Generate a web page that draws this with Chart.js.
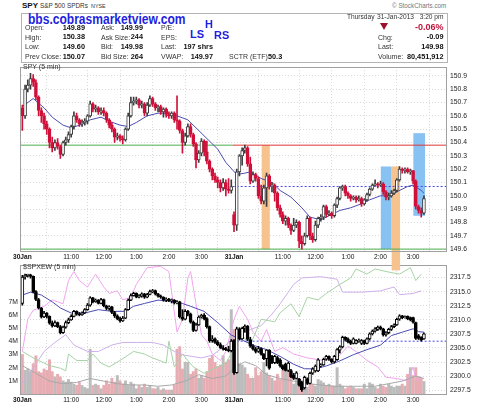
<!DOCTYPE html>
<html>
<head>
<meta charset="utf-8">
<script src="https://cdn.jsdelivr.net/npm/chart.js@4.4.0/dist/chart.umd.min.js"></script>
<style>
html, body { margin: 0; padding: 0; background: #fff; }
body { width: 480px; height: 406px; position: relative; overflow: hidden; font-family: "Liberation Sans", Arial, sans-serif; color: #333; }
.t { position: absolute; white-space: nowrap; font-size: 7px; line-height: 1; z-index: 5; }
.v { position: absolute; white-space: nowrap; font-size: 7.3px; line-height: 1; font-weight: bold; color: #111; z-index: 5; }
.blue { color: #1f1fe0; font-weight: bold; }
#box { position: absolute; left: 21px; top: 13px; width: 427px; height: 50px; box-sizing: border-box; border: 1px solid #b4b4b4; }
canvas { position: absolute; left: 0; }
#topChart { top: 60px; z-index: 2; }
#botChart { top: 258px; z-index: 1; }
</style>
</head>
<body>
<div class="t" style="left:22px;top:2px;font-size:8px;font-weight:bold;color:#111">SPY</div>
<div class="t" style="left:40px;top:3px;font-size:6.4px">S&amp;P 500 SPDRs</div>
<div class="t" style="left:91px;top:3.6px;font-size:5.4px">NYSE</div>
<div class="t" style="left:392px;top:3px;font-size:6.3px;color:#777">&copy; StockCharts.com</div>
<div id="box"></div>
<div class="t blue" style="left:28px;top:11.5px;font-size:14px;transform:scaleX(0.86);transform-origin:left top">bbs.cobrasmarketview.com</div>
<div class="t blue" style="left:190px;top:28.5px;font-size:11px">LS</div>
<div class="t blue" style="left:205px;top:18.5px;font-size:11px">H</div>
<div class="t blue" style="left:214px;top:30px;font-size:11px">RS</div>

<div class="t" style="left:25px;top:24.3px">Open:</div>
<div class="v" style="right:395px;top:24px">149.89</div>
<div class="t" style="left:25px;top:33.6px">High:</div>
<div class="v" style="right:395px;top:33.3px">150.38</div>
<div class="t" style="left:25px;top:42.9px">Low:</div>
<div class="v" style="right:395px;top:42.6px">149.60</div>
<div class="t" style="left:25px;top:53.3px">Prev Close:</div>
<div class="v" style="right:395px;top:53px">150.07</div>

<div class="t" style="left:101px;top:24.3px">Ask:</div>
<div class="v" style="right:337px;top:24px">149.99</div>
<div class="t" style="left:101px;top:33.6px">Ask Size:</div>
<div class="v" style="right:337px;top:33.3px">244</div>
<div class="t" style="left:101px;top:42.9px">Bid:</div>
<div class="v" style="right:337px;top:42.6px">149.98</div>
<div class="t" style="left:101px;top:53.3px">Bid Size:</div>
<div class="v" style="right:337px;top:53px">264</div>

<div class="t" style="left:161px;top:24.3px">P/E:</div>
<div class="t" style="left:161px;top:33.6px">EPS:</div>
<div class="t" style="left:161px;top:42.9px">Last:</div>
<div class="v" style="right:267px;top:42.6px">197 shrs</div>
<div class="t" style="left:161px;top:53.3px">VWAP:</div>
<div class="v" style="right:267px;top:53px">149.97</div>
<div class="t" style="left:229px;top:53.3px">SCTR (ETF):</div>
<div class="v" style="left:268px;top:53px">50.3</div>

<div class="t" style="left:347px;top:13.8px;font-size:6.6px">Thursday</div>
<div class="t" style="left:377px;top:13.8px;font-size:6.6px">31-Jan-2013</div>
<div class="t" style="right:36.5px;top:13.8px;font-size:6.6px">3:20 pm</div>
<div style="position:absolute;left:380px;top:23px;width:0;height:0;border-left:4px solid transparent;border-right:4px solid transparent;border-top:7px solid #9e0f2c;z-index:5"></div>
<div class="v" style="right:36.5px;top:22.6px;font-size:9px;color:#c0143c">-0.06%</div>
<div class="t" style="left:378px;top:33.6px">Chg:</div>
<div class="v" style="right:36.5px;top:33.3px">-0.09</div>
<div class="t" style="left:378px;top:42.9px">Last:</div>
<div class="v" style="right:36.5px;top:42.6px">149.98</div>
<div class="t" style="left:378px;top:53.3px">Volume:</div>
<div class="v" style="right:36.5px;top:53px">80,451,912</div>

<div class="t" style="left:23px;top:62.5px;color:#333">SPY (5 min)</div>
<div class="t" style="left:23px;top:262.5px;color:#333">$SPXEW (5 min)</div>

<canvas id="topChart" width="480" height="215"></canvas>
<canvas id="botChart" width="480" height="148"></canvas>

<script>
// ---- time axis (5 minute bars, 30-Jan 9:30 -> 31-Jan 3:20) ----
const tickBars = [0, 18, 30, 42, 54, 66, 78, 96, 108, 120, 132, 144];
const tickLabels = ['30Jan', '11:00', '12:00', '1:00', '2:00', '3:00', '31Jan', '11:00', '12:00', '1:00', '2:00', '3:00'];
const dayBreak = 77.5;

// ---- SPY 5 min candles ----
const spyOpen = [
  150.66,150.60,150.80,150.83,150.88,150.85,150.74,150.64,150.60,150.54,
  150.50,150.40,150.36,150.40,150.37,150.31,150.40,150.42,150.46,150.52,
  150.60,150.57,150.54,150.55,150.56,150.60,150.69,150.65,150.66,150.63,
  150.64,150.62,150.57,150.53,150.50,150.44,150.45,150.43,150.42,150.50,
  150.60,150.70,150.71,150.72,150.68,150.69,150.62,150.68,150.73,150.69,
  150.66,150.67,150.63,150.65,150.61,150.60,150.62,150.57,150.56,150.49,
  150.40,150.45,150.52,150.46,150.39,150.27,150.32,150.41,150.33,150.26,
  150.20,150.15,150.12,150.10,150.06,150.10,150.05,150.04,
  149.86,149.78,150.18,150.30,150.34,150.36,150.24,150.11,150.16,150.13,
  150.00,149.96,150.06,150.15,150.07,150.08,150.02,149.91,149.86,149.81,
  149.83,149.78,149.74,149.78,149.80,149.66,149.64,149.70,149.83,149.70,
  149.67,149.78,149.83,149.84,149.92,149.86,149.87,149.85,149.93,149.98,
  150.06,150.07,150.02,150.00,149.98,149.99,149.97,149.98,149.94,149.97,
  150.01,150.05,150.08,150.09,150.08,150.09,150.03,149.99,150.00,150.02,
  150.04,150.12,150.20,150.19,150.20,150.18,150.19,150.11,149.92,149.89,
  149.87
];
const spyHigh = [
  150.68,150.83,150.87,150.92,150.91,150.87,150.75,150.66,150.62,150.56,
  150.51,150.44,150.42,150.43,150.38,150.41,150.44,150.48,150.53,150.63,
  150.62,150.58,150.57,150.58,150.61,150.71,150.70,150.68,150.67,150.66,
  150.66,150.63,150.58,150.55,150.51,150.47,150.46,150.45,150.51,150.62,
  150.74,150.74,150.74,150.73,150.71,150.70,150.70,150.75,150.74,150.70,
  150.68,150.68,150.66,150.66,150.63,150.63,150.63,150.75,150.57,150.50,
  150.47,150.54,150.54,150.47,150.40,150.34,150.43,150.42,150.41,150.27,
  150.21,150.17,150.14,150.12,150.13,150.12,150.13,150.12,
  149.88,150.20,150.31,150.36,150.38,150.37,150.29,150.18,150.17,150.14,
  150.08,150.08,150.17,150.16,150.10,150.09,150.03,149.93,149.88,149.85,
  149.84,149.79,149.83,149.82,149.81,149.70,149.72,149.85,149.84,149.72,
  149.81,149.84,149.86,149.93,149.93,149.89,149.88,149.94,149.99,150.07,
  150.08,150.08,150.03,150.01,150.00,150.00,150.00,149.99,149.98,150.02,
  150.06,150.09,150.12,150.10,150.11,150.10,150.04,150.02,150.04,150.05,
  150.13,150.22,150.21,150.21,150.21,150.20,150.19,150.12,149.93,149.91,
  150.00
];
const spyLow = [
  150.49,150.58,150.78,150.80,150.82,150.72,150.60,150.55,150.50,150.46,
  150.36,150.33,150.34,150.35,150.28,150.30,150.38,150.40,150.44,150.50,
  150.55,150.52,150.52,150.53,150.54,150.59,150.63,150.63,150.61,150.61,
  150.60,150.55,150.51,150.48,150.40,150.42,150.41,150.39,150.41,150.49,
  150.59,150.68,150.69,150.66,150.66,150.60,150.60,150.67,150.67,150.64,
  150.63,150.61,150.59,150.59,150.58,150.58,150.55,150.50,150.47,150.32,
  150.38,150.44,150.44,150.37,150.21,150.25,150.30,150.30,150.24,150.18,
  150.12,150.10,150.06,150.03,150.04,150.00,150.02,150.02,
  149.73,149.74,150.15,150.23,150.32,150.22,150.09,150.10,150.11,149.98,
  149.94,149.94,149.92,150.05,150.03,149.96,149.89,149.84,149.79,149.78,
  149.76,149.71,149.73,149.76,149.61,149.60,149.63,149.69,149.67,149.65,
  149.66,149.76,149.81,149.82,149.84,149.85,149.83,149.84,149.91,149.97,
  150.04,150.00,149.98,149.96,149.97,149.95,149.96,149.92,149.93,149.96,
  150.00,150.04,150.07,150.06,150.07,150.01,149.97,149.97,149.99,150.01,
  150.03,150.11,150.17,150.17,150.17,150.16,150.09,149.90,149.87,149.84,
  149.86
];
const spyClose = [
  150.60,150.80,150.83,150.88,150.85,150.74,150.64,150.60,150.54,150.50,
  150.40,150.36,150.40,150.37,150.31,150.40,150.42,150.46,150.52,150.60,
  150.57,150.54,150.55,150.56,150.60,150.69,150.65,150.66,150.63,150.64,
  150.62,150.57,150.53,150.50,150.44,150.45,150.43,150.42,150.50,150.60,
  150.70,150.71,150.72,150.68,150.69,150.62,150.68,150.73,150.69,150.66,
  150.67,150.63,150.65,150.61,150.60,150.62,150.57,150.56,150.49,150.40,
  150.45,150.52,150.46,150.39,150.27,150.32,150.41,150.33,150.26,150.20,
  150.15,150.12,150.10,150.06,150.10,150.05,150.04,150.07,
  149.78,150.18,150.30,150.34,150.36,150.24,150.11,150.16,150.13,150.00,
  149.96,150.06,150.15,150.07,150.08,150.02,149.91,149.86,149.81,149.83,
  149.78,149.74,149.78,149.80,149.66,149.64,149.70,149.83,149.70,149.67,
  149.78,149.83,149.84,149.92,149.86,149.87,149.85,149.93,149.98,150.06,
  150.07,150.02,150.00,149.98,149.99,149.97,149.98,149.94,149.97,150.01,
  150.05,150.08,150.09,150.08,150.09,150.03,149.99,150.00,150.02,150.04,
  150.12,150.20,150.19,150.20,150.18,150.19,150.11,149.92,149.89,149.87,
  149.98
];
// SPY moving average (read at selected bars)
const spyMaBars = [0,4,8,11,15,18,21,25,29,32,36,39,42,46,50,53,57,61,64,68,72,75,79,82,84,88,92,95,99,103,106,110,114,117,121,125,128,132,136,138,142,144,147,148];
const spyMaVals = [150.67,150.73,150.66,150.59,150.53,150.51,150.53,150.57,150.59,150.56,150.53,150.52,150.55,150.60,150.62,150.62,150.60,150.57,150.51,150.43,150.35,150.25,150.16,150.17,150.18,150.13,150.10,150.04,149.99,149.91,149.84,149.82,149.86,149.89,149.91,149.94,149.97,150.00,150.00,150.03,150.07,150.08,150.04,150.02];
const spyTicks = [149.6,149.7,149.8,149.9,150.0,150.1,150.2,150.3,150.4,150.5,150.6,150.7,150.8,150.9];
const spyPrevClose = 150.07;
const spyDayHigh = 150.38;
const spyDayLow = 149.60;
// highlighted zones drawn on the SPY panel
const bandStart = [88.2, 132.1, 136.1, 144.1];
const bandEnd   = [91.2, 136.1, 139.2, 148.4];
const bandLow   = [149.60, 149.60, 149.44, 149.85];
const bandHigh  = [150.38, 150.22, 150.22, 150.47];
const bandKind  = ['orange', 'blue', 'orange', 'blue'];

// ---- $SPXEW 5 min candles ----
const ewOpen = [
  2312.9,2317.6,2317.9,2318.0,2317.7,2315.0,2313.6,2312.1,2310.5,2311.2,
  2310.6,2309.4,2308.9,2309.5,2308.8,2307.7,2308.7,2309.5,2310.0,2310.6,
  2311.5,2311.0,2310.9,2311.2,2311.8,2312.6,2313.9,2313.2,2313.5,2312.9,
  2313.6,2312.5,2312.0,2312.3,2311.3,2310.7,2310.2,2309.8,2310.3,2311.8,
  2313.5,2314.3,2314.7,2314.0,2314.2,2314.6,2314.0,2314.5,2315.0,2315.2,
  2314.6,2314.2,2314.0,2313.5,2313.7,2313.4,2313.5,2313.0,2313.2,2310.5,
  2310.1,2311.5,2311.0,2309.6,2308.1,2309.1,2310.5,2310.8,2310.2,2308.8,
  2306.3,2306.6,2306.0,2305.6,2305.0,2304.8,2304.7,2304.5,
  2306.4,2300.6,2308.4,2306.6,2308.5,2308.9,2306.5,2305.3,2304.8,2304.4,
  2304.9,2303.9,2303.1,2304.6,2303.5,2302.4,2303.3,2302.9,2301.8,2302.1,
  2301.0,2301.0,2300.2,2299.6,2299.5,2298.9,2297.9,2299.5,2298.7,2300.5,
  2300.9,2300.9,2301.8,2302.0,2303.0,2303.5,2303.0,2302.5,2302.9,2304.6,
  2305.2,2306.9,2306.6,2306.2,2305.8,2305.8,2306.1,2305.8,2306.3,2305.8,
  2306.6,2307.5,2308.0,2308.3,2308.7,2308.4,2307.3,2307.7,2308.3,2308.8,
  2309.1,2310.1,2310.7,2310.4,2310.6,2310.4,2310.4,2309.5,2307.2,2306.9,
  2306.6
];
const ewHigh = [
  2317.9,2318.1,2318.1,2318.1,2317.8,2315.2,2313.8,2312.2,2311.5,2311.3,
  2310.7,2309.8,2309.8,2309.6,2309.0,2308.9,2309.8,2310.3,2310.9,2311.7,
  2311.6,2311.3,2311.4,2312.0,2312.9,2314.1,2314.0,2313.7,2313.6,2313.8,
  2313.7,2312.6,2312.5,2312.4,2311.5,2310.9,2310.5,2310.6,2312.0,2313.7,
  2314.6,2314.9,2314.8,2314.5,2314.8,2314.7,2314.7,2315.3,2315.4,2315.3,
  2314.7,2314.4,2314.1,2313.9,2313.8,2313.7,2313.6,2313.4,2313.3,2311.8,
  2311.8,2311.7,2311.2,2309.8,2309.4,2310.7,2311.0,2311.1,2310.4,2308.9,
  2307.2,2306.8,2306.3,2305.9,2305.4,2305.1,2305.3,2306.5,
  2306.5,2308.7,2308.6,2308.7,2309.1,2309.0,2306.9,2305.6,2305.1,2305.3,
  2305.0,2304.0,2304.7,2304.7,2303.7,2303.7,2303.5,2303.1,2302.0,2302.3,
  2302.5,2301.2,2300.5,2300.8,2299.6,2299.1,2300.0,2299.7,2300.7,2301.5,
  2302.0,2303.1,2302.2,2303.2,2303.7,2303.6,2303.1,2303.7,2304.9,2305.4,
  2307.1,2307.0,2306.8,2306.4,2306.8,2306.5,2306.6,2306.5,2306.4,2306.8,
  2307.7,2308.2,2308.6,2308.9,2308.9,2308.5,2307.9,2308.5,2309.0,2309.3,
  2310.3,2310.9,2310.8,2310.7,2310.7,2310.5,2310.5,2309.6,2307.4,2307.0,
  2307.7
];
const ewLow = [
  2312.6,2317.2,2317.6,2317.4,2314.8,2313.4,2311.9,2310.3,2310.4,2310.3,
  2309.2,2308.7,2308.8,2308.6,2307.5,2307.6,2308.5,2309.3,2309.9,2310.5,
  2310.8,2310.7,2310.8,2311.1,2311.7,2312.4,2313.0,2313.1,2312.8,2312.8,
  2312.3,2311.8,2311.7,2311.1,2310.4,2310.0,2309.6,2309.7,2310.2,2311.7,
  2313.4,2314.2,2313.9,2313.9,2314.0,2313.8,2313.9,2314.4,2314.8,2314.4,
  2314.0,2313.8,2313.3,2313.2,2313.2,2313.0,2312.8,2312.8,2310.3,2309.9,
  2310.0,2310.7,2309.4,2307.9,2308.0,2309.0,2310.3,2310.0,2308.5,2306.0,
  2306.0,2305.8,2305.4,2304.9,2304.6,2304.5,2304.3,2304.3,
  2300.3,2300.5,2306.4,2306.5,2307.8,2306.3,2305.1,2304.6,2304.1,2304.2,
  2303.7,2302.9,2301.8,2301.2,2302.2,2302.2,2302.2,2301.6,2301.1,2300.9,
  2300.8,2299.7,2299.4,2299.5,2298.2,2297.3,2297.7,2298.5,2298.6,2300.3,
  2300.7,2300.8,2301.6,2301.9,2302.8,2302.8,2302.3,2302.3,2302.8,2304.1,
  2305.0,2306.3,2305.9,2305.6,2305.7,2305.7,2306.0,2305.6,2305.6,2305.7,
  2306.4,2307.3,2307.8,2308.1,2308.2,2307.1,2307.1,2307.5,2308.1,2308.6,
  2309.0,2309.9,2310.2,2310.3,2310.0,2309.8,2309.4,2306.5,2306.5,2306.2,
  2306.5
];
const ewClose = [
  2317.6,2317.9,2318.0,2317.7,2315.0,2313.6,2312.1,2310.5,2311.2,2310.6,
  2309.4,2308.9,2309.5,2308.8,2307.7,2308.7,2309.5,2310.0,2310.6,2311.5,
  2311.0,2310.9,2311.2,2311.8,2312.6,2313.9,2313.2,2313.5,2312.9,2313.6,
  2312.5,2312.0,2312.3,2311.3,2310.7,2310.2,2309.8,2310.3,2311.8,2313.5,
  2314.3,2314.7,2314.0,2314.2,2314.6,2314.0,2314.5,2315.0,2315.2,2314.6,
  2314.2,2314.0,2313.5,2313.7,2313.4,2313.5,2313.0,2313.2,2310.5,2310.1,
  2311.5,2311.0,2309.6,2308.1,2309.1,2310.5,2310.8,2310.2,2308.8,2306.3,
  2306.6,2306.0,2305.6,2305.0,2304.8,2304.7,2304.5,2306.2,
  2300.6,2308.4,2306.6,2308.5,2308.9,2306.5,2305.3,2304.8,2304.4,2304.9,
  2303.9,2303.1,2304.6,2301.4,2302.4,2303.5,2302.4,2301.8,2301.3,2301.0,
  2302.3,2299.9,2299.6,2300.6,2298.4,2297.6,2299.8,2298.7,2300.5,2301.3,
  2301.8,2302.9,2302.0,2303.0,2303.5,2303.0,2302.5,2303.5,2304.7,2305.2,
  2306.9,2306.5,2306.1,2305.8,2306.6,2306.3,2306.4,2306.3,2305.8,2306.6,
  2307.5,2308.0,2308.4,2308.7,2308.4,2307.3,2307.7,2308.3,2308.8,2309.1,
  2310.1,2310.7,2310.4,2310.5,2310.2,2310.0,2309.6,2306.7,2306.7,2306.4,
  2307.5
];
const ewMaBars = [0,3,7,11,14,18,23,28,33,38,41,45,50,55,59,62,67,72,77,81,85,90,95,100,104,108,112,117,122,127,132,136,140,144,146,148];
const ewMaVals = [2314.4,2314.9,2314.4,2313.2,2312.1,2311.2,2311.2,2311.8,2311.5,2311.5,2312.4,2312.9,2313.5,2313.3,2312.9,2312.4,2311.5,2309.5,2307.3,2306.4,2305.5,2304.7,2303.5,2302.1,2301.3,2301.3,2301.8,2302.7,2303.8,2304.7,2305.5,2307.2,2307.8,2308.4,2307.9,2307.8];
const ewTicks = [2297.5,2300.0,2302.5,2305.0,2307.5,2310.0,2312.5,2315.0,2317.5];
const ewPrevClose = 2306.2;

// ---- SPY volume (millions) ----
const volume = [
  3.0,1.8,1.9,1.7,2.3,2.9,1.7,1.6,1.9,1.8,
  2.6,1.7,1.3,1.5,1.3,1.0,0.9,1.1,0.9,0.75,
  0.65,0.9,0.65,0.5,0.4,3.4,0.65,0.75,0.65,0.4,
  0.65,1.0,0.75,1.2,0.9,1.4,1.0,0.75,1.0,0.65,
  0.9,0.75,0.4,0.65,0.5,0.75,0.5,0.65,0.4,0.4,
  0.5,0.3,0.4,0.3,0.3,0.3,0.7,3.4,3.6,1.9,
  2.4,2.4,1.5,1.7,1.9,1.2,1.4,1.2,1.7,2.7,
  2.9,2.4,2.1,2.2,2.9,2.4,2.6,6.4,
  4.9,3.4,2.3,2.2,2.0,1.5,1.2,1.2,2.0,1.4,
  1.7,2.4,1.6,1.4,1.2,1.0,1.5,1.1,2.2,1.9,
  1.7,1.5,0.75,1.5,0.95,0.75,0.85,0.5,0.75,0.75,
  0.6,1.1,1.0,0.85,0.6,0.75,0.6,0.6,2.0,0.75,
  0.6,0.4,0.5,0.6,0.5,0.4,0.4,0.4,0.75,0.4,
  0.85,0.75,0.5,0.4,0.75,0.6,0.5,0.75,0.6,0.5,
  0.6,0.6,0.75,0.6,1.5,2.0,1.4,2.0,1.3,1.2,
  0.95
];
const volTicks = [1, 2, 3, 4, 5, 6, 7];

// ---- indicator overlays in the lower panel (0..100 of panel height) ----
const pinkBars = [0,2,4,8,11,15,17,19,21,24,27,30,32,35,37,40,42,46,51,54,57,59,61,62,64,66,68,70,73,75,78,80,83,85,88,90,93,96,100,105,111,116,120,123,127,131,134,138,142,144,145,147];
const pinkVals = [33,58,65,68,73,70,88,95,88,83,93,83,78,80,73,75,85,98,99,95,48,58,90,95,70,46,41,31,26,33,58,68,58,48,41,50,33,36,31,28,26,28,37,33,26,21,13,12,10,21,11,13];
const lavBars = [0,4,8,12,16,19,24,28,33,37,42,48,52,56,60,66,70,75,78,80,84,88,92,95,100,103,110,116,118,125,132,137,139,144,147];
const lavVals = [8,20,33,40,46,38,33,33,38,40,40,40,38,33,30,28,30,38,44,46,50,53,62,70,85,90,91,89,79,79,80,83,77,78,80];
const greenBars = [0,4,6,10,14,16,17,20,24,26,29,32,36,41,45,48,53,54,56,59,63,67,70,75,78,80,84,88,93,95,99,102,105,109,112,117,121,123,127,130,134,139,143,145,147];
const greenVals = [33,28,26,22,20,18,31,26,26,31,24,21,26,33,31,28,24,41,21,31,21,16,19,24,35,48,38,58,56,63,70,60,75,73,78,85,90,97,93,97,95,93,98,88,93];
const grayBars = [0,5,10,15,20,25,30,35,40,45,50,55,60,65,70,75,78,82,86,90,95,100,105,110,115,120,125,130,135,140,145,148];
const grayVals = [22,16,10,8,9,12,10,8,7,7,6,7,10,15,12,14,20,25,22,15,12,10,8,7,6,6,6,6,8,10,14,12];

// ============================================
Chart.defaults.font.family = '"Liberation Sans", Arial, sans-serif';
Chart.defaults.animation = false;

const RED = '#d0103a';
const DARK = '#3c3c3c';
const X_MIN = -0.5, X_MAX = 156.5;
const idx = spyClose.map((_, i) => i);
const pts = (xs, ys) => xs.map((x, i) => ({ x: x, y: ys[i] }));

function candleSets(o, h, l, c, lineCol, yAxis) {
    const fills = idx.map(i => c[i] < o[i] ? lineCol[i] : '#ffffff');
    return [
        {
            type: 'bar', yAxisID: yAxis, order: 3, grouped: false,
            data: idx.map(i => ({ x: i, y: [l[i], h[i]] })),
            backgroundColor: lineCol, barThickness: 1
        },
        {
            type: 'bar', yAxisID: yAxis, order: 2, grouped: false,
            data: idx.map(i => ({ x: i, y: [o[i], c[i]] })),
            backgroundColor: fills, borderColor: lineCol, borderWidth: 1,
            borderSkipped: false, barThickness: 3, minBarLength: 1
        }
    ];
}

function lineSet(data, color, yAxis, order, dash) {
    return {
        type: 'line', yAxisID: yAxis, order: order, data: data,
        borderColor: color, borderWidth: 1, borderDash: dash || [],
        pointRadius: 0, tension: 0, fill: false
    };
}

const xScale = (axisHeight) => ({
    type: 'linear', min: X_MIN, max: X_MAX, offset: false,
    afterBuildTicks: (axis) => { axis.ticks = tickBars.map(v => ({ value: v })); },
    afterFit: (axis) => { axis.height = axisHeight; },
    ticks: {
        autoSkip: false, maxRotation: 0, padding: 2, color: '#111',
        callback: (v, i) => tickLabels[i],
        font: (ctx) => ({ size: 6.6, weight: tickLabels[ctx.index] && tickLabels[ctx.index].indexOf('Jan') > 0 ? 'bold' : 'normal' })
    },
    grid: { color: '#d9d9d9', drawTicks: false },
    border: { display: false, dash: [1, 2] }
});

const framePlugin = {
    id: 'frame',
    afterDatasetsDraw(chart) {
        const a = chart.chartArea, ctx = chart.ctx;
        ctx.save();
        ctx.strokeStyle = '#a0a0a0';
        ctx.lineWidth = 1;
        ctx.strokeRect(Math.round(a.left) - 0.5, Math.round(a.top) + 0.5, Math.round(a.right - a.left), Math.round(a.bottom - a.top));
        ctx.restore();
    }
};

const bandPlugin = {
    id: 'bands',
    beforeDatasetsDraw(chart) {
        const xs = chart.scales.x, ys = chart.scales.y, ctx = chart.ctx;
        ctx.save();
        bandStart.forEach((s, i) => {
            const x0 = xs.getPixelForValue(s), x1 = xs.getPixelForValue(bandEnd[i]);
            const y0 = ys.getPixelForValue(bandHigh[i]), y1 = ys.getPixelForValue(bandLow[i]);
            ctx.fillStyle = bandKind[i] === 'blue' ? '#88c2f2' : '#f6c28e';
            ctx.fillRect(x0, y0, x1 - x0, y1 - y0);
        });
        ctx.restore();
    }
};

// ---- top panel: SPY ----
const spyCol = idx.map(i => spyClose[i] < (i ? spyClose[i - 1] : spyOpen[i]) ? RED : DARK);

new Chart(document.getElementById('topChart'), {
    type: 'bar',
    data: {
        datasets: [
            lineSet([{ x: X_MIN, y: spyDayHigh }, { x: dayBreak, y: spyDayHigh }], '#4caf50', 'y', 6),
            lineSet([{ x: dayBreak, y: spyDayHigh }, { x: X_MAX, y: spyDayHigh }], '#e03838', 'y', 6),
            lineSet([{ x: X_MIN, y: spyDayLow }, { x: X_MAX, y: spyDayLow }], '#4caf50', 'y', 6),
            lineSet([{ x: dayBreak, y: spyPrevClose }, { x: X_MAX, y: spyPrevClose }], '#4848ee', 'y', 6, [2, 2]),
            lineSet(pts(spyMaBars, spyMaVals), '#4c4cb4', 'y', 5),
            ...candleSets(spyOpen, spyHigh, spyLow, spyClose, spyCol, 'y')
        ]
    },
    options: {
        responsive: false,
        layout: { padding: { left: 21, top: 2, right: 0, bottom: 13.5 } },
        plugins: { legend: { display: false }, tooltip: { enabled: false } },
        scales: {
            x: xScale(10),
            y: {
                position: 'right', min: 149.582, max: 150.966,
                afterBuildTicks: (axis) => { axis.ticks = spyTicks.map(v => ({ value: v })); },
                afterFit: (axis) => { axis.width = 33; },
                ticks: { padding: 3, color: '#222', font: { size: 6.8 }, callback: (v) => v.toFixed(1) },
                grid: { color: '#d9d9d9', drawTicks: false },
                border: { display: false, dash: [1, 2] }
            }
        }
    },
    plugins: [bandPlugin, framePlugin]
});

// ---- bottom panel: $SPXEW with SPY volume ----
const ewCol = idx.map(() => '#000');
const volCol = idx.map(i => spyCol[i] === RED ? '#e7adb3' : '#bcbcbc');

new Chart(document.getElementById('botChart'), {
    type: 'bar',
    data: {
        datasets: [
            {
                type: 'bar', yAxisID: 'yv', order: 20, grouped: false,
                data: idx.map(i => ({ x: i, y: volume[i] })),
                backgroundColor: volCol, barThickness: 2.3
            },
            lineSet(pts(grayBars, grayVals), '#a8a8a8', 'yo', 15),
            lineSet(pts(greenBars, greenVals), '#a6d3a6', 'yo', 15),
            lineSet(pts(lavBars, lavVals), '#cdb0ea', 'yo', 15),
            lineSet(pts(pinkBars, pinkVals), '#f2a4f0', 'yo', 15),
            lineSet([{ x: dayBreak, y: ewPrevClose }, { x: X_MAX, y: ewPrevClose }], '#4848ee', 'y', 6, [2, 2]),
            lineSet(pts(ewMaBars, ewMaVals), '#4c4cb4', 'y', 5),
            ...candleSets(ewOpen, ewHigh, ewLow, ewClose, ewCol, 'y')
        ]
    },
    options: {
        responsive: false,
        layout: { padding: { left: 0, top: 2, right: 0, bottom: 0 } },
        plugins: { legend: { display: false }, tooltip: { enabled: false } },
        scales: {
            x: xScale(12),
            y: {
                position: 'right', min: 2296.82, max: 2319.72,
                afterBuildTicks: (axis) => { axis.ticks = ewTicks.map(v => ({ value: v })); },
                afterFit: (axis) => { axis.width = 33; },
                ticks: { padding: 3, color: '#222', font: { size: 6.8 }, callback: (v) => v.toFixed(1) },
                grid: { color: '#d9d9d9', drawTicks: false },
                border: { display: false, dash: [1, 2] }
            },
            yv: {
                position: 'left', min: 0, max: 9.78,
                afterBuildTicks: (axis) => { axis.ticks = volTicks.map(v => ({ value: v })); },
                afterFit: (axis) => { axis.width = 21; },
                ticks: { padding: 3, color: '#222', font: { size: 6.8 }, callback: (v) => v + 'M' },
                grid: { display: false, drawTicks: false },
                border: { display: false }
            },
            yo: { display: false, min: 0, max: 100 }
        }
    },
    plugins: [framePlugin]
});
</script>
</body>
</html>
